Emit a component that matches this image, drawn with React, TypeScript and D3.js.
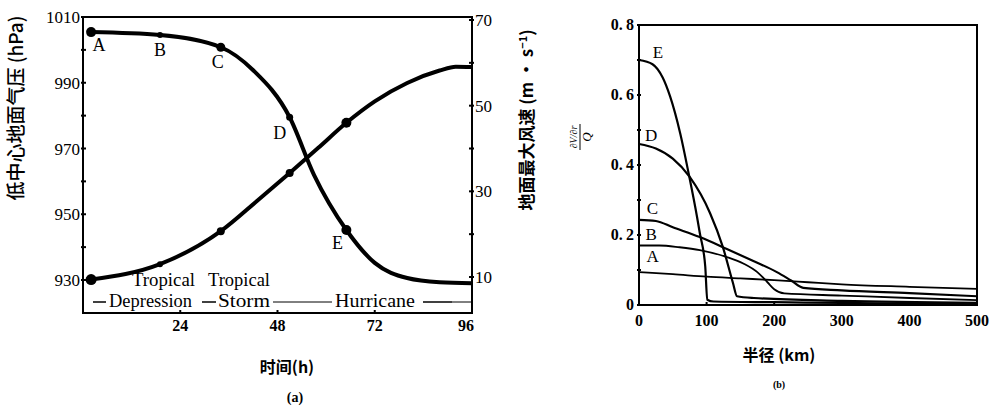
import React from 'react'
import * as d3 from 'd3'

// ---- panel (a) data: hours vs pressure / max wind ----
const pressureHours = [2, 19, 34, 42, 51, 57, 65, 72, 80, 88, 96]
const pressureValues = [1005.4, 1004.5, 1000.8, 993.8, 979.5, 962, 945.2, 935.2, 930.6, 929.3, 929]
const windHours = [2, 19, 34, 43, 51, 58, 65, 72, 80, 88, 92, 96]
const windValues = [9.4, 13, 20.7, 27.8, 34.3, 40.1, 46, 51, 55.3, 58.2, 59.1, 59]
const stageLabels = ['A', 'B', 'C', 'D', 'E']
const stageHours = [2, 19, 34, 51, 65]
const pressureDotR = [5, 3, 4.5, 3.5, 5]
const windDotR = [5.5, 3, 4, 4, 5]
const pressureTicks = [930, 950, 970, 990, 1010]
const windTicks = [10, 30, 50, 70]
const hourTicks = [24, 48, 72, 96]

// ---- panel (b) data: radius vs (dV/dr)/Q ----
const radiusTicks = [0, 100, 200, 300, 400, 500]
const ratioTicks = [0, 0.2, 0.4, 0.6, 0.8]
const curveA = [[0, 0.094], [50, 0.088], [100, 0.081], [150, 0.076], [200, 0.071], [250, 0.065], [300, 0.059], [400, 0.052], [500, 0.046]]
const curveB = [[0, 0.17], [30, 0.17], [60, 0.165], [90, 0.157], [130, 0.137], [155, 0.118], [175, 0.094], [190, 0.065], [200, 0.045], [215, 0.033], [300, 0.027], [400, 0.02], [500, 0.014]]
const curveC = [[0, 0.243], [25, 0.24], [50, 0.222], [90, 0.194], [130, 0.16], [170, 0.125], [204, 0.094], [225, 0.07], [243, 0.049], [300, 0.042], [400, 0.034], [500, 0.025]]
const curveD = [[0, 0.46], [25, 0.447], [50, 0.418], [75, 0.366], [105, 0.263], [124, 0.166], [139, 0.063], [145, 0.025], [170, 0.02], [300, 0.012], [500, 0.006]]
const curveE = [[0, 0.7], [20, 0.688], [35, 0.65], [46, 0.596], [61, 0.49], [73, 0.38], [86, 0.25], [90, 0.205], [98, 0.11], [101, 0.015], [110, 0.01], [200, 0.008], [300, 0.006], [400, 0.004], [500, 0.002]]
const curvesB = [curveA, curveB, curveC, curveD, curveE]

const serif = '"Liberation Serif", "DejaVu Serif", serif'
const cjk = '"Noto Sans CJK SC", sans-serif'

function PanelA() {
  const x = d3.scaleLinear().domain([0, 96]).range([83, 472])
  const yP = d3.scaleLinear().domain([930, 1010]).range([280, 17])
  const yW = d3.scaleLinear().domain([10, 70]).range([277, 20])
  const top = 17, bottom = 313, left = 83, right = 472

  const pLine = d3.line<number>()
    .x((d, i) => x(pressureHours[i]))
    .y(d => yP(d))
    .curve(d3.curveMonotoneX)
  const wLine = d3.line<number>()
    .x((d, i) => x(windHours[i]))
    .y(d => yW(d))
    .curve(d3.curveMonotoneX)

  const pMinor = d3.range(930, 1011, 10)
  const wMinor = d3.range(10, 71, 10)
  const labelOffsets = [[8, 19], [0, 21], [-3, 21], [-10, 22], [-9, 19]]

  return (
    <g>
      <path d={`M${left},${top}H${right}V${bottom}H${left}Z`} fill="none" stroke="#000" strokeWidth={2} />
      {pMinor.map(v => (
        <line key={'pm' + v} x1={left - 2} x2={left + 3} y1={yP(v)} y2={yP(v)} stroke="#000" strokeWidth={2} />
      ))}
      {pressureTicks.map(v => (
        <text key={'pt' + v} x={left - 3} y={yP(v) + 6} textAnchor="end" fontFamily={serif} fontSize={17}>{v}</text>
      ))}
      {wMinor.map(v => (
        <line key={'wm' + v} x1={right - 3} x2={right + 2} y1={yW(v)} y2={yW(v)} stroke="#000" strokeWidth={2} />
      ))}
      {windTicks.map(v => (
        <text key={'wt' + v} x={right + 3} y={yW(v) + 6} fontFamily={serif} fontSize={17}>{v}</text>
      ))}
      {hourTicks.map(v => (
        <g key={'h' + v}>
          <line x1={x(v)} x2={x(v)} y1={bottom - 3} y2={bottom} stroke="#000" strokeWidth={2} />
          <text x={x(v) - (v === 96 ? 6 : 0)} y={bottom + 18} textAnchor="middle" fontFamily={serif} fontWeight="bold" fontSize={16}>{v}</text>
        </g>
      ))}

      <path d={pLine(pressureValues) || ''} fill="none" stroke="#000" strokeWidth={4} />
      <path d={wLine(windValues) || ''} fill="none" stroke="#000" strokeWidth={4} />
      {stageHours.map((h, i) => {
        const pi = pressureHours.indexOf(h)
        const wi = windHours.indexOf(h)
        return (
          <g key={'s' + h}>
            <circle cx={x(h)} cy={yP(pressureValues[pi])} r={pressureDotR[i]} fill="#000" />
            <circle cx={x(h)} cy={yW(windValues[wi])} r={windDotR[i]} fill="#000" />
            <text x={x(h) + labelOffsets[i][0]} y={yP(pressureValues[pi]) + labelOffsets[i][1]}
              textAnchor="middle" fontFamily={serif} fontSize={18}>{stageLabels[i]}</text>
          </g>
        )
      })}

      {/* stage band */}
      <text x={132} y={286} fontFamily={serif} fontSize={18} textLength={63} lengthAdjust="spacingAndGlyphs">Tropical</text>
      <text x={208} y={286} fontFamily={serif} fontSize={18} textLength={62} lengthAdjust="spacingAndGlyphs">Tropical</text>
      <line x1={93} x2={106} y1={302} y2={302} stroke="#000" strokeWidth={1.5} />
      <text x={109} y={307} fontFamily={serif} fontSize={18} textLength={83} lengthAdjust="spacingAndGlyphs">Depression</text>
      <line x1={202} x2={216} y1={302} y2={302} stroke="#000" strokeWidth={1.5} />
      <text x={218} y={307} fontFamily={serif} fontSize={18} textLength={52} lengthAdjust="spacingAndGlyphs">Storm</text>
      <line x1={273} x2={332} y1={302} y2={302} stroke="#000" strokeWidth={1} />
      <text x={335} y={307} fontFamily={serif} fontSize={18} textLength={80} lengthAdjust="spacingAndGlyphs">Hurricane</text>
      <line x1={423} x2={452} y1={302} y2={302} stroke="#000" strokeWidth={1.5} />
      <line x1={452} x2={right} y1={302} y2={302} stroke="#000" strokeWidth={1} />

      <text transform="translate(23,108) rotate(-90)" textAnchor="middle" fontFamily={cjk} fontWeight={500} fontSize={19}>低中心地面气压 (hPa)</text>
      <text transform="translate(533,120) rotate(-90)" textAnchor="middle" fontFamily={cjk} fontWeight="bold" fontSize={17}>
        地面最大风速 (m · s<tspan dy={-6} fontSize={11}>−1</tspan><tspan dy={6}>)</tspan>
      </text>
      <text x={287} y={373} textAnchor="middle" fontFamily={cjk} fontWeight="bold" fontSize={16}>时间(h)</text>
      <text x={295} y={402} textAnchor="middle" fontFamily={serif} fontWeight="bold" fontSize={14}>(a)</text>
    </g>
  )
}

function PanelB() {
  const x = d3.scaleLinear().domain([0, 500]).range([639, 977])
  const y = d3.scaleLinear().domain([0, 0.8]).range([305, 25])
  const line = d3.line<number[]>()
    .x(d => x(d[0]))
    .y(d => y(d[1]))
    .curve(d3.curveMonotoneX)
  const minor = d3.range(0, 0.81, 0.1)
  const letterPos = [[20, 0.124], [18, 0.185], [20, 0.26], [18, 0.47], [28, 0.705]]

  return (
    <g>
      <path d={`M${x(0)},${y(0.8)}H${x(500)}V${y(0)}H${x(0)}Z`} fill="none" stroke="#000" strokeWidth={2} />
      {minor.map(v => (
        <line key={'m' + v} x1={x(0) - 2} x2={x(0) + 2} y1={y(v)} y2={y(v)} stroke="#000" strokeWidth={2} />
      ))}
      {ratioTicks.map(v => (
        <text key={'r' + v} x={x(0) - 5} y={y(v) + 5} textAnchor="end" fontFamily={serif} fontWeight="bold" fontSize={16}>
          {v === 0 ? '0' : v.toFixed(1).replace('.', '.\u2009')}
        </text>
      ))}
      {radiusTicks.map(v => (
        <g key={'x' + v}>
          <line x1={x(v)} x2={x(v)} y1={y(0) - 3} y2={y(0)} stroke="#000" strokeWidth={2} />
          <text x={x(v)} y={y(0) + 21} textAnchor="middle" fontFamily={serif} fontWeight="bold" fontSize={16}>{v}</text>
        </g>
      ))}
      {curvesB.map((c, i) => (
        <path key={'c' + i} d={line(c) || ''} fill="none" stroke="#000" strokeWidth={i > 1 ? 2.2 : 1.8} />
      ))}
      {stageLabels.map((s, i) => (
        <text key={'l' + s} x={x(letterPos[i][0])} y={y(letterPos[i][1])} textAnchor="middle" fontFamily={serif} fontSize={17}>{s}</text>
      ))}

      <g transform="translate(580,137) rotate(-90)">
        <text x={0} y={-3} textAnchor="middle" fontFamily={serif} fontStyle="italic" fontSize={10}>∂V/∂r</text>
        <line x1={-13} x2={13} y1={0} y2={0} stroke="#000" strokeWidth={1} />
        <text x={0} y={11} textAnchor="middle" fontFamily={serif} fontStyle="italic" fontSize={13}>Q</text>
      </g>
      <text x={779} y={361} textAnchor="middle" fontFamily={cjk} fontWeight="bold" fontSize={16}>半径 (km)</text>
      <text x={779} y={388} textAnchor="middle" fontFamily={serif} fontWeight="bold" fontSize={10}>(b)</text>
    </g>
  )
}

export default function App() {
  return (
    <svg width={996} height={411} style={{ position: 'absolute', left: 0, top: 0, background: '#fff' }}>
      <rect width={996} height={411} fill="#fff" />
      <PanelA />
      <PanelB />
    </svg>
  )
}
